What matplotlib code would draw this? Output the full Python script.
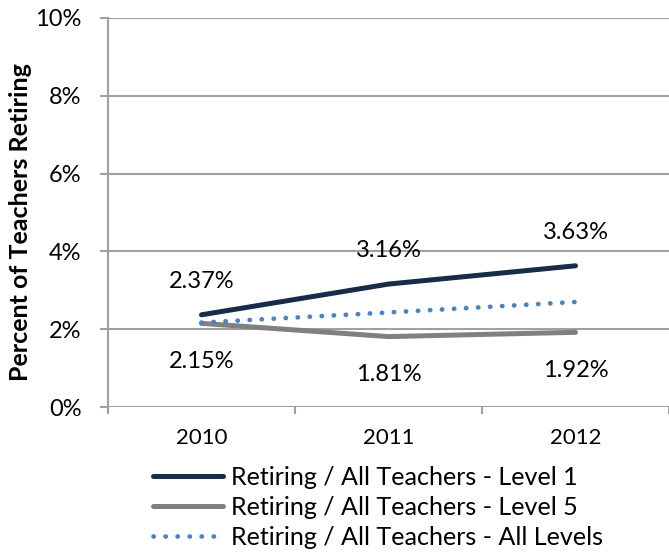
import matplotlib
matplotlib.use("Agg")
import matplotlib.pyplot as plt
from matplotlib.ticker import FuncFormatter

plt.rcParams['font.family'] = ['Lato', 'DejaVu Sans']

# data
years = ['2010', '2011', '2012']
level1 = [2.37, 3.16, 3.63]
level5 = [2.15, 1.81, 1.92]
all_levels = [2.17, 2.43, 2.70]

navy = '#182b49'
gray = '#808080'
blue = '#4f81bd'
axis_gray = '#a0a0a0'

fig = plt.figure(figsize=(6.69, 5.54), dpi=100)
ax = fig.add_axes([108 / 669, 1 - 407 / 554, 1 - 108 / 669, (407 - 18) / 554])

x = list(range(len(years)))
ax.plot(x, level1, color=navy, lw=3.6, solid_capstyle='round',
        label='Retiring / All Teachers - Level 1', zorder=3)
ax.plot(x, level5, color=gray, lw=3.6, solid_capstyle='round',
        label='Retiring / All Teachers - Level 5', zorder=3)
ax.plot(x, all_levels, color=blue, lw=3.4, linestyle=(0, (0.05, 2.5)),
        dash_capstyle='round', label='Retiring / All Teachers - All Levels', zorder=3)

# data labels: level 1 above, level 5 below
for i, v in enumerate(level1):
    ax.annotate(f'{v:.2f}%', (i, v), xytext=(0, 24), textcoords='offset points',
                ha='center', va='center', fontsize=17)
for i, v in enumerate(level5):
    ax.annotate(f'{v:.2f}%', (i, v), xytext=(0, -27.5), textcoords='offset points',
                ha='center', va='center', fontsize=17)

ax.set_ylim(0, 10)
ax.set_xlim(-0.5, -0.5 + (669 - 108) / 189)
ax.set_yticks(range(0, 11, 2))
ax.yaxis.set_major_formatter(FuncFormatter(lambda v, p: f'{v:.0f}%'))
ax.set_xticks(x)
ax.set_xticklabels(years)
ax.set_xticks([-0.5, 0.5, 1.5, 2.5], minor=True)

ax.grid(axis='y', color=axis_gray, lw=1.5)
ax.set_axisbelow(True)
for s in ['top', 'right', 'bottom']:
    ax.spines[s].set_visible(False)
ax.spines['left'].set_color(axis_gray)
ax.spines['left'].set_linewidth(1.5)

ax.tick_params(axis='y', length=6, width=1.5, color=axis_gray, labelsize=17, pad=13)
ax.tick_params(axis='x', which='major', length=0, labelsize=16, pad=15)
ax.tick_params(axis='x', which='minor', length=5, width=1.5, color=axis_gray)

ax.set_ylabel('Percent of Teachers Retiring', fontsize=18, fontweight='bold')
ax.yaxis.set_label_coords(-76 / 561, 0.5 - 10 / 389)

fig.legend(loc='upper left', bbox_to_anchor=(143 / 669, 1 - 456 / 554), frameon=False,
           fontsize=18.1, handlelength=2.8, handletextpad=0.3, labelspacing=0.27,
           borderaxespad=0)

fig.savefig('out.png', dpi=100)
